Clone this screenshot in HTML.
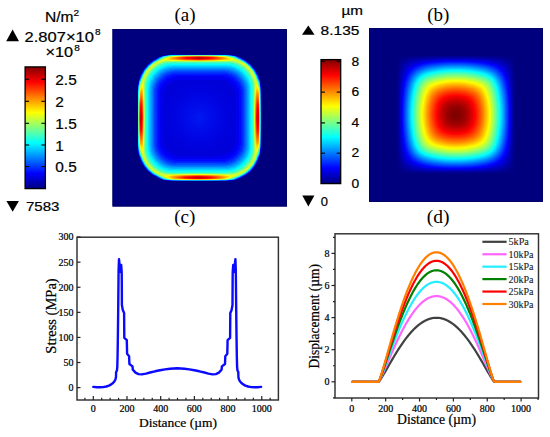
<!DOCTYPE html><html><head><meta charset="utf-8"><style>html,body{margin:0;padding:0;background:#fff;overflow:hidden}svg{display:block}</style></head><body>
<svg width="550" height="437" viewBox="0 0 550 437">
<defs>
<filter id="jet" x="0" y="0" width="1" height="1" color-interpolation-filters="sRGB"><feComponentTransfer><feFuncR type="table" tableValues="0 0 0 0 0.5 1 1 1 0.5"/><feFuncG type="table" tableValues="0 0 0.5 1 1 1 0.5 0 0"/><feFuncB type="table" tableValues="0.5 1 1 1 0.5 0 0 0 0"/></feComponentTransfer></filter>
<linearGradient id="cbar" x1="0" y1="0" x2="0" y2="1"><stop offset="0.0000" stop-color="#800000"/><stop offset="0.1250" stop-color="#ff0000"/><stop offset="0.2500" stop-color="#ff8000"/><stop offset="0.3750" stop-color="#ffff00"/><stop offset="0.5000" stop-color="#80ff80"/><stop offset="0.6250" stop-color="#00ffff"/><stop offset="0.7500" stop-color="#0080ff"/><stop offset="0.8750" stop-color="#0000ff"/><stop offset="1.0000" stop-color="#000080"/></linearGradient>
<linearGradient id="bgx" x1="0" y1="0" x2="1" y2="0"><stop offset="0.1601" stop-color="#000000"/><stop offset="0.1714" stop-color="#0a0a0a"/><stop offset="0.1827" stop-color="#161616"/><stop offset="0.1940" stop-color="#232323"/><stop offset="0.2053" stop-color="#303030"/><stop offset="0.2166" stop-color="#3d3d3d"/><stop offset="0.2279" stop-color="#4b4b4b"/><stop offset="0.2392" stop-color="#585858"/><stop offset="0.2505" stop-color="#656565"/><stop offset="0.2618" stop-color="#727272"/><stop offset="0.2731" stop-color="#7e7e7e"/><stop offset="0.2844" stop-color="#8a8a8a"/><stop offset="0.2957" stop-color="#959595"/><stop offset="0.3070" stop-color="#a0a0a0"/><stop offset="0.3183" stop-color="#ababab"/><stop offset="0.3296" stop-color="#b5b5b5"/><stop offset="0.3409" stop-color="#bebebe"/><stop offset="0.3522" stop-color="#c7c7c7"/><stop offset="0.3635" stop-color="#cfcfcf"/><stop offset="0.3748" stop-color="#d6d6d6"/><stop offset="0.3861" stop-color="#dddddd"/><stop offset="0.3974" stop-color="#e4e4e4"/><stop offset="0.4087" stop-color="#e9e9e9"/><stop offset="0.4200" stop-color="#eeeeee"/><stop offset="0.4313" stop-color="#f3f3f3"/><stop offset="0.4426" stop-color="#f7f7f7"/><stop offset="0.4539" stop-color="#fafafa"/><stop offset="0.4652" stop-color="#fcfcfc"/><stop offset="0.4765" stop-color="#fefefe"/><stop offset="0.4878" stop-color="#ffffff"/><stop offset="0.4991" stop-color="#ffffff"/><stop offset="0.5104" stop-color="#ffffff"/><stop offset="0.5217" stop-color="#fefefe"/><stop offset="0.5330" stop-color="#fcfcfc"/><stop offset="0.5443" stop-color="#fafafa"/><stop offset="0.5557" stop-color="#f7f7f7"/><stop offset="0.5670" stop-color="#f3f3f3"/><stop offset="0.5783" stop-color="#eeeeee"/><stop offset="0.5896" stop-color="#e9e9e9"/><stop offset="0.6009" stop-color="#e4e4e4"/><stop offset="0.6122" stop-color="#dddddd"/><stop offset="0.6235" stop-color="#d6d6d6"/><stop offset="0.6348" stop-color="#cfcfcf"/><stop offset="0.6461" stop-color="#c7c7c7"/><stop offset="0.6574" stop-color="#bebebe"/><stop offset="0.6687" stop-color="#b5b5b5"/><stop offset="0.6800" stop-color="#ababab"/><stop offset="0.6913" stop-color="#a0a0a0"/><stop offset="0.7026" stop-color="#959595"/><stop offset="0.7139" stop-color="#8a8a8a"/><stop offset="0.7252" stop-color="#7e7e7e"/><stop offset="0.7365" stop-color="#727272"/><stop offset="0.7478" stop-color="#656565"/><stop offset="0.7591" stop-color="#585858"/><stop offset="0.7704" stop-color="#4b4b4b"/><stop offset="0.7817" stop-color="#3d3d3d"/><stop offset="0.7930" stop-color="#303030"/><stop offset="0.8043" stop-color="#232323"/><stop offset="0.8156" stop-color="#161616"/><stop offset="0.8269" stop-color="#0a0a0a"/><stop offset="0.8382" stop-color="#000000"/></linearGradient>
<linearGradient id="bgy" x1="0" y1="0" x2="0" y2="1"><stop offset="0.1589" stop-color="#000000"/><stop offset="0.1702" stop-color="#0a0a0a"/><stop offset="0.1815" stop-color="#161616"/><stop offset="0.1928" stop-color="#232323"/><stop offset="0.2041" stop-color="#303030"/><stop offset="0.2154" stop-color="#3d3d3d"/><stop offset="0.2267" stop-color="#4b4b4b"/><stop offset="0.2380" stop-color="#585858"/><stop offset="0.2493" stop-color="#656565"/><stop offset="0.2606" stop-color="#727272"/><stop offset="0.2719" stop-color="#7e7e7e"/><stop offset="0.2832" stop-color="#8a8a8a"/><stop offset="0.2945" stop-color="#959595"/><stop offset="0.3058" stop-color="#a0a0a0"/><stop offset="0.3171" stop-color="#ababab"/><stop offset="0.3284" stop-color="#b5b5b5"/><stop offset="0.3398" stop-color="#bebebe"/><stop offset="0.3511" stop-color="#c7c7c7"/><stop offset="0.3624" stop-color="#cfcfcf"/><stop offset="0.3737" stop-color="#d6d6d6"/><stop offset="0.3850" stop-color="#dddddd"/><stop offset="0.3963" stop-color="#e4e4e4"/><stop offset="0.4076" stop-color="#e9e9e9"/><stop offset="0.4189" stop-color="#eeeeee"/><stop offset="0.4302" stop-color="#f3f3f3"/><stop offset="0.4415" stop-color="#f7f7f7"/><stop offset="0.4528" stop-color="#fafafa"/><stop offset="0.4641" stop-color="#fcfcfc"/><stop offset="0.4754" stop-color="#fefefe"/><stop offset="0.4867" stop-color="#ffffff"/><stop offset="0.4980" stop-color="#ffffff"/><stop offset="0.5093" stop-color="#ffffff"/><stop offset="0.5206" stop-color="#fefefe"/><stop offset="0.5319" stop-color="#fcfcfc"/><stop offset="0.5432" stop-color="#fafafa"/><stop offset="0.5545" stop-color="#f7f7f7"/><stop offset="0.5658" stop-color="#f3f3f3"/><stop offset="0.5771" stop-color="#eeeeee"/><stop offset="0.5884" stop-color="#e9e9e9"/><stop offset="0.5997" stop-color="#e4e4e4"/><stop offset="0.6110" stop-color="#dddddd"/><stop offset="0.6223" stop-color="#d6d6d6"/><stop offset="0.6336" stop-color="#cfcfcf"/><stop offset="0.6449" stop-color="#c7c7c7"/><stop offset="0.6562" stop-color="#bebebe"/><stop offset="0.6675" stop-color="#b5b5b5"/><stop offset="0.6788" stop-color="#ababab"/><stop offset="0.6901" stop-color="#a0a0a0"/><stop offset="0.7014" stop-color="#959595"/><stop offset="0.7127" stop-color="#8a8a8a"/><stop offset="0.7240" stop-color="#7e7e7e"/><stop offset="0.7353" stop-color="#727272"/><stop offset="0.7466" stop-color="#656565"/><stop offset="0.7580" stop-color="#585858"/><stop offset="0.7693" stop-color="#4b4b4b"/><stop offset="0.7806" stop-color="#3d3d3d"/><stop offset="0.7919" stop-color="#303030"/><stop offset="0.8032" stop-color="#232323"/><stop offset="0.8145" stop-color="#161616"/><stop offset="0.8258" stop-color="#0a0a0a"/><stop offset="0.8371" stop-color="#000000"/></linearGradient>
<clipPath id="ringclip"><rect x="137.80" y="54.80" width="123.10" height="126.00" rx="33" ry="33"/></clipPath>
<filter id="bl4" filterUnits="userSpaceOnUse" x="100" y="20" width="200" height="200"><feGaussianBlur stdDeviation="4"/></filter>
<filter id="bl2" filterUnits="userSpaceOnUse" x="100" y="20" width="200" height="200"><feGaussianBlur stdDeviation="1.6"/></filter>
<filter id="bl1" filterUnits="userSpaceOnUse" x="100" y="20" width="200" height="200"><feGaussianBlur stdDeviation="1.0"/></filter>
<radialGradient id="acenter" cx="0.5" cy="0.5" r="0.5"><stop offset="0" stop-color="#202020"/><stop offset="1" stop-color="#1a1a1a"/></radialGradient>
<linearGradient id="redh" x1="0" y1="0" x2="1" y2="0"><stop offset="0" stop-color="#9e9e9e" stop-opacity="0"/><stop offset="0.18" stop-color="#bfbfbf" stop-opacity="0.9"/><stop offset="0.33" stop-color="#e0e0e0" stop-opacity="1"/><stop offset="0.5" stop-color="#f7f7f7" stop-opacity="1"/><stop offset="0.67" stop-color="#e0e0e0" stop-opacity="1"/><stop offset="0.82" stop-color="#bfbfbf" stop-opacity="0.9"/><stop offset="1" stop-color="#9e9e9e" stop-opacity="0"/></linearGradient>
<linearGradient id="redv" x1="0" y1="0" x2="0" y2="1"><stop offset="0" stop-color="#9e9e9e" stop-opacity="0"/><stop offset="0.18" stop-color="#bfbfbf" stop-opacity="0.9"/><stop offset="0.33" stop-color="#e0e0e0" stop-opacity="1"/><stop offset="0.5" stop-color="#f7f7f7" stop-opacity="1"/><stop offset="0.67" stop-color="#e0e0e0" stop-opacity="1"/><stop offset="0.82" stop-color="#bfbfbf" stop-opacity="0.9"/><stop offset="1" stop-color="#9e9e9e" stop-opacity="0"/></linearGradient>
<filter id="bl8" filterUnits="userSpaceOnUse" x="100" y="20" width="200" height="200"><feGaussianBlur stdDeviation="12"/></filter>
<filter id="bl07" filterUnits="userSpaceOnUse" x="100" y="20" width="200" height="200"><feGaussianBlur stdDeviation="0.75"/></filter>
<filter id="bl05" filterUnits="userSpaceOnUse" x="100" y="20" width="200" height="200"><feGaussianBlur stdDeviation="0.6"/></filter>
</defs>
<g filter="url(#jet)">
<rect x="112.50" y="29.00" width="174.50" height="177.50" fill="#000"/>
<g filter="url(#bl07)"><g clip-path="url(#ringclip)">
<g filter="url(#bl05)">
<rect x="137.80" y="54.80" width="123.10" height="126.00" rx="33.00" fill="#1f1f1f"/>
<rect x="138.80" y="55.80" width="121.10" height="124.00" rx="32.00" fill="#404040"/>
<rect x="139.80" y="56.80" width="119.10" height="122.00" rx="31.00" fill="#6a6a6a"/>
<rect x="140.80" y="57.80" width="117.10" height="120.00" rx="30.00" fill="#8c8c8c"/>
<rect x="141.80" y="58.80" width="115.10" height="118.00" rx="29.00" fill="#989898"/>
<rect x="142.80" y="59.80" width="113.10" height="116.00" rx="28.00" fill="#8f8f8f"/>
<rect x="143.80" y="60.80" width="111.10" height="114.00" rx="27.00" fill="#808080"/>
<rect x="144.80" y="61.80" width="109.10" height="112.00" rx="26.45" fill="#737373"/>
<rect x="145.80" y="62.80" width="107.10" height="110.00" rx="25.90" fill="#6a6a6a"/>
<rect x="146.80" y="63.80" width="105.10" height="108.00" rx="25.35" fill="#626262"/>
<rect x="147.80" y="64.80" width="103.10" height="106.00" rx="24.80" fill="#5b5b5b"/>
<rect x="148.80" y="65.80" width="101.10" height="104.00" rx="24.25" fill="#545454"/>
<rect x="149.80" y="66.80" width="99.10" height="102.00" rx="23.70" fill="#4d4d4d"/>
<rect x="150.80" y="67.80" width="97.10" height="100.00" rx="23.15" fill="#474747"/>
<rect x="151.80" y="68.80" width="95.10" height="98.00" rx="22.60" fill="#404040"/>
<rect x="152.80" y="69.80" width="93.10" height="96.00" rx="22.05" fill="#3a3a3a"/>
<rect x="153.80" y="70.80" width="91.10" height="94.00" rx="21.50" fill="#343434"/>
<rect x="154.80" y="71.80" width="89.10" height="92.00" rx="20.95" fill="#2f2f2f"/>
<rect x="155.80" y="72.80" width="87.10" height="90.00" rx="20.40" fill="#2b2b2b"/>
<rect x="156.80" y="73.80" width="85.10" height="88.00" rx="19.85" fill="#272727"/>
<rect x="157.80" y="74.80" width="83.10" height="86.00" rx="19.30" fill="#232323"/>
<rect x="158.80" y="75.80" width="81.10" height="84.00" rx="18.75" fill="#212121"/>
<rect x="159.80" y="76.80" width="79.10" height="82.00" rx="18.20" fill="#1e1e1e"/>
<rect x="160.80" y="77.80" width="77.10" height="80.00" rx="17.65" fill="#1c1c1c"/>
<rect x="161.80" y="78.80" width="75.10" height="78.00" rx="17.10" fill="#1b1b1b"/>
<rect x="162.80" y="79.80" width="73.10" height="76.00" rx="16.55" fill="#1a1a1a"/>
<rect x="163.80" y="80.80" width="71.10" height="74.00" rx="16.00" fill="#181818"/>
<rect x="164.80" y="81.80" width="69.10" height="72.00" rx="15.45" fill="#171717"/>
</g>
<g filter="url(#bl1)">
<rect x="157.50" y="55.70" width="82.00" height="4.40" fill="url(#redh)"/>
<rect x="157.50" y="175.50" width="82.00" height="4.40" fill="url(#redh)"/>
<rect x="138.70" y="77.80" width="4.40" height="80.00" fill="url(#redv)"/>
<rect x="255.60" y="77.80" width="4.40" height="80.00" fill="url(#redv)"/>
</g>
</g></g></g>
<radialGradient id="aglow" cx="0.5" cy="0.5" r="0.5"><stop offset="0" stop-color="#0018f2" stop-opacity="1"/><stop offset="0.45" stop-color="#0008ea" stop-opacity="0.7"/><stop offset="1" stop-color="#0000e0" stop-opacity="0"/></radialGradient>
<ellipse cx="199.35" cy="117.80" rx="44" ry="44" fill="url(#aglow)"/>
<g filter="url(#jet)">
<g style="isolation:isolate">
<rect x="369.00" y="28.00" width="174.00" height="174.00" fill="url(#bgx)"/>
<rect x="369.00" y="28.00" width="174.00" height="174.00" fill="url(#bgy)" style="mix-blend-mode:multiply"/>
</g>
<filter id="bbl" filterUnits="userSpaceOnUse" x="369.0" y="28.0" width="174.0" height="174.0"><feGaussianBlur stdDeviation="4.00"/></filter>
<filter id="mbl" filterUnits="userSpaceOnUse" x="369.0" y="28.0" width="174.0" height="174.0"><feGaussianBlur stdDeviation="6.00"/></filter>
<mask id="bmask" maskUnits="userSpaceOnUse" x="369.0" y="28.0" width="174.0" height="174.0"><rect x="411.85" y="70.65" width="88.00" height="88.00" rx="18.00" fill="#fff" filter="url(#mbl)"/></mask>
<g mask="url(#bmask)"><g style="isolation:isolate" opacity="0.380" filter="url(#bbl)">
<rect x="369.00" y="28.00" width="174.00" height="174.00" fill="url(#bgx)"/>
<rect x="369.00" y="28.00" width="174.00" height="174.00" fill="url(#bgy)" style="mix-blend-mode:darken"/>
</g>
</g>
</g>
<rect x="25.10" y="66.90" width="20.30" height="121.70" fill="url(#cbar)" stroke="#000" stroke-width="1.3"/>
<line x1="25.10" y1="79.30" x2="29.10" y2="79.30" stroke="#000" stroke-width="1.1"/>
<line x1="41.40" y1="79.30" x2="45.40" y2="79.30" stroke="#000" stroke-width="1.1"/>
<line x1="25.10" y1="101.30" x2="29.10" y2="101.30" stroke="#000" stroke-width="1.1"/>
<line x1="41.40" y1="101.30" x2="45.40" y2="101.30" stroke="#000" stroke-width="1.1"/>
<line x1="25.10" y1="123.30" x2="29.10" y2="123.30" stroke="#000" stroke-width="1.1"/>
<line x1="41.40" y1="123.30" x2="45.40" y2="123.30" stroke="#000" stroke-width="1.1"/>
<line x1="25.10" y1="145.00" x2="29.10" y2="145.00" stroke="#000" stroke-width="1.1"/>
<line x1="41.40" y1="145.00" x2="45.40" y2="145.00" stroke="#000" stroke-width="1.1"/>
<line x1="25.10" y1="166.60" x2="29.10" y2="166.60" stroke="#000" stroke-width="1.1"/>
<line x1="41.40" y1="166.60" x2="45.40" y2="166.60" stroke="#000" stroke-width="1.1"/>
<text x="45.00" y="22.20" font-size="14.00" font-family='"Liberation Sans", sans-serif' textLength="28.60" lengthAdjust="spacingAndGlyphs"  stroke="#000" stroke-width="0.20">N/m</text>
<text x="73.60" y="15.80" font-size="9.00" font-family='"Liberation Sans", sans-serif' textLength="5.60" lengthAdjust="spacingAndGlyphs"  stroke="#000" stroke-width="0.20">2</text>
<polygon points="6.20,41.20 12.60,29.50 19.00,41.20" fill="#000"/>
<text x="24.60" y="41.70" font-size="14.00" font-family='"Liberation Sans", sans-serif' textLength="69.40" lengthAdjust="spacingAndGlyphs"  stroke="#000" stroke-width="0.20">2.807×10</text>
<text x="94.90" y="34.80" font-size="9.50" font-family='"Liberation Sans", sans-serif' textLength="5.60" lengthAdjust="spacingAndGlyphs"  stroke="#000" stroke-width="0.20">8</text>
<text x="45.50" y="57.20" font-size="14.00" font-family='"Liberation Sans", sans-serif' textLength="27.60" lengthAdjust="spacingAndGlyphs"  stroke="#000" stroke-width="0.20">×10</text>
<text x="74.30" y="51.00" font-size="9.50" font-family='"Liberation Sans", sans-serif' textLength="5.60" lengthAdjust="spacingAndGlyphs"  stroke="#000" stroke-width="0.20">8</text>
<text x="55.30" y="84.90" font-size="14.00" font-family='"Liberation Sans", sans-serif' textLength="21.40" lengthAdjust="spacingAndGlyphs"  stroke="#000" stroke-width="0.20">2.5</text>
<text x="55.30" y="106.90" font-size="14.00" font-family='"Liberation Sans", sans-serif' textLength="8.60" lengthAdjust="spacingAndGlyphs"  stroke="#000" stroke-width="0.20">2</text>
<text x="55.30" y="128.90" font-size="14.00" font-family='"Liberation Sans", sans-serif' textLength="21.40" lengthAdjust="spacingAndGlyphs"  stroke="#000" stroke-width="0.20">1.5</text>
<text x="55.30" y="150.60" font-size="14.00" font-family='"Liberation Sans", sans-serif' textLength="8.60" lengthAdjust="spacingAndGlyphs"  stroke="#000" stroke-width="0.20">1</text>
<text x="55.30" y="172.20" font-size="14.00" font-family='"Liberation Sans", sans-serif' textLength="21.40" lengthAdjust="spacingAndGlyphs"  stroke="#000" stroke-width="0.20">0.5</text>
<polygon points="6.40,201.00 12.65,211.70 18.90,201.00" fill="#000"/>
<text x="25.90" y="211.40" font-size="13.50" font-family='"Liberation Sans", sans-serif' textLength="33.50" lengthAdjust="spacingAndGlyphs"  stroke="#000" stroke-width="0.20">7583</text>
<rect x="321.00" y="59.60" width="19.70" height="124.00" fill="url(#cbar)" stroke="#000" stroke-width="1.3"/>
<line x1="321.00" y1="61.30" x2="325.00" y2="61.30" stroke="#000" stroke-width="1.1"/>
<line x1="336.70" y1="61.30" x2="340.70" y2="61.30" stroke="#000" stroke-width="1.1"/>
<line x1="321.00" y1="92.10" x2="325.00" y2="92.10" stroke="#000" stroke-width="1.1"/>
<line x1="336.70" y1="92.10" x2="340.70" y2="92.10" stroke="#000" stroke-width="1.1"/>
<line x1="321.00" y1="122.90" x2="325.00" y2="122.90" stroke="#000" stroke-width="1.1"/>
<line x1="336.70" y1="122.90" x2="340.70" y2="122.90" stroke="#000" stroke-width="1.1"/>
<line x1="321.00" y1="153.20" x2="325.00" y2="153.20" stroke="#000" stroke-width="1.1"/>
<line x1="336.70" y1="153.20" x2="340.70" y2="153.20" stroke="#000" stroke-width="1.1"/>
<text x="341.50" y="14.50" font-size="12.80" font-family='"Liberation Sans", sans-serif' textLength="21.50" lengthAdjust="spacingAndGlyphs"  stroke="#000" stroke-width="0.20">µm</text>
<polygon points="302.00,34.80 308.30,25.60 314.60,34.80" fill="#000"/>
<text x="320.60" y="34.80" font-size="12.50" font-family='"Liberation Sans", sans-serif' textLength="38.80" lengthAdjust="spacingAndGlyphs"  stroke="#000" stroke-width="0.20">8.135</text>
<text x="351.50" y="66.00" font-size="12.00" font-family='"Liberation Sans", sans-serif' textLength="7.70" lengthAdjust="spacingAndGlyphs"  stroke="#000" stroke-width="0.20">8</text>
<text x="351.50" y="95.80" font-size="12.00" font-family='"Liberation Sans", sans-serif' textLength="7.70" lengthAdjust="spacingAndGlyphs"  stroke="#000" stroke-width="0.20">6</text>
<text x="351.50" y="126.60" font-size="12.00" font-family='"Liberation Sans", sans-serif' textLength="7.70" lengthAdjust="spacingAndGlyphs"  stroke="#000" stroke-width="0.20">4</text>
<text x="351.50" y="156.90" font-size="12.00" font-family='"Liberation Sans", sans-serif' textLength="7.70" lengthAdjust="spacingAndGlyphs"  stroke="#000" stroke-width="0.20">2</text>
<text x="351.50" y="187.70" font-size="12.00" font-family='"Liberation Sans", sans-serif' textLength="7.70" lengthAdjust="spacingAndGlyphs"  stroke="#000" stroke-width="0.20">0</text>
<polygon points="302.30,195.40 308.35,206.40 314.40,195.40" fill="#000"/>
<text x="320.80" y="205.70" font-size="12.50" font-family='"Liberation Sans", sans-serif' textLength="7.20" lengthAdjust="spacingAndGlyphs"  stroke="#000" stroke-width="0.20">0</text>
<rect x="113.00" y="29.50" width="173.50" height="176.50" fill="none" stroke="#000060" stroke-width="1"/>
<rect x="369.50" y="28.50" width="173.00" height="173.00" fill="none" stroke="#000060" stroke-width="1"/>
<text x="185.05" y="21.00" font-size="19.00" font-family='"Liberation Serif", serif' text-anchor="middle" stroke="none">(a)</text>
<text x="438.25" y="21.00" font-size="19.00" font-family='"Liberation Serif", serif' text-anchor="middle" stroke="none">(b)</text>
<text x="184.75" y="223.30" font-size="19.00" font-family='"Liberation Serif", serif' text-anchor="middle" stroke="none">(c)</text>
<text x="438.20" y="223.20" font-size="19.50" font-family='"Liberation Serif", serif' text-anchor="middle" stroke="none">(d)</text>
<rect x="77.00" y="237.20" width="201.40" height="162.80" fill="none" stroke="#303030" stroke-width="1.45"/>
<line x1="77.00" y1="387.60" x2="80.50" y2="387.60" stroke="#222" stroke-width="1.2"/>
<text x="73.50" y="391.00" font-size="10.00" font-family='"Liberation Serif", serif' text-anchor="end"  stroke="#000" stroke-width="0.22">0</text>
<line x1="77.00" y1="362.52" x2="80.50" y2="362.52" stroke="#222" stroke-width="1.2"/>
<text x="73.50" y="365.92" font-size="10.00" font-family='"Liberation Serif", serif' text-anchor="end"  stroke="#000" stroke-width="0.22">50</text>
<line x1="77.00" y1="337.43" x2="80.50" y2="337.43" stroke="#222" stroke-width="1.2"/>
<text x="73.50" y="340.83" font-size="10.00" font-family='"Liberation Serif", serif' text-anchor="end"  stroke="#000" stroke-width="0.22">100</text>
<line x1="77.00" y1="312.35" x2="80.50" y2="312.35" stroke="#222" stroke-width="1.2"/>
<text x="73.50" y="315.75" font-size="10.00" font-family='"Liberation Serif", serif' text-anchor="end"  stroke="#000" stroke-width="0.22">150</text>
<line x1="77.00" y1="287.26" x2="80.50" y2="287.26" stroke="#222" stroke-width="1.2"/>
<text x="73.50" y="290.66" font-size="10.00" font-family='"Liberation Serif", serif' text-anchor="end"  stroke="#000" stroke-width="0.22">200</text>
<line x1="77.00" y1="262.18" x2="80.50" y2="262.18" stroke="#222" stroke-width="1.2"/>
<text x="73.50" y="265.57" font-size="10.00" font-family='"Liberation Serif", serif' text-anchor="end"  stroke="#000" stroke-width="0.22">250</text>
<line x1="77.00" y1="237.09" x2="80.50" y2="237.09" stroke="#222" stroke-width="1.2"/>
<text x="73.50" y="240.49" font-size="10.00" font-family='"Liberation Serif", serif' text-anchor="end"  stroke="#000" stroke-width="0.22">300</text>
<line x1="84.88" y1="400.00" x2="84.88" y2="397.80" stroke="#222" stroke-width="1.2"/>
<line x1="93.30" y1="400.00" x2="93.30" y2="396.00" stroke="#222" stroke-width="1.2"/>
<text x="93.30" y="412.00" font-size="10.00" font-family='"Liberation Serif", serif' text-anchor="middle"  stroke="#000" stroke-width="0.22">0</text>
<line x1="101.72" y1="400.00" x2="101.72" y2="397.80" stroke="#222" stroke-width="1.2"/>
<line x1="110.14" y1="400.00" x2="110.14" y2="397.80" stroke="#222" stroke-width="1.2"/>
<line x1="118.57" y1="400.00" x2="118.57" y2="397.80" stroke="#222" stroke-width="1.2"/>
<line x1="126.99" y1="400.00" x2="126.99" y2="396.00" stroke="#222" stroke-width="1.2"/>
<text x="126.99" y="412.00" font-size="10.00" font-family='"Liberation Serif", serif' text-anchor="middle"  stroke="#000" stroke-width="0.22">200</text>
<line x1="135.41" y1="400.00" x2="135.41" y2="397.80" stroke="#222" stroke-width="1.2"/>
<line x1="143.83" y1="400.00" x2="143.83" y2="397.80" stroke="#222" stroke-width="1.2"/>
<line x1="152.26" y1="400.00" x2="152.26" y2="397.80" stroke="#222" stroke-width="1.2"/>
<line x1="160.68" y1="400.00" x2="160.68" y2="396.00" stroke="#222" stroke-width="1.2"/>
<text x="160.68" y="412.00" font-size="10.00" font-family='"Liberation Serif", serif' text-anchor="middle"  stroke="#000" stroke-width="0.22">400</text>
<line x1="169.10" y1="400.00" x2="169.10" y2="397.80" stroke="#222" stroke-width="1.2"/>
<line x1="177.52" y1="400.00" x2="177.52" y2="397.80" stroke="#222" stroke-width="1.2"/>
<line x1="185.95" y1="400.00" x2="185.95" y2="397.80" stroke="#222" stroke-width="1.2"/>
<line x1="194.37" y1="400.00" x2="194.37" y2="396.00" stroke="#222" stroke-width="1.2"/>
<text x="194.37" y="412.00" font-size="10.00" font-family='"Liberation Serif", serif' text-anchor="middle"  stroke="#000" stroke-width="0.22">600</text>
<line x1="202.79" y1="400.00" x2="202.79" y2="397.80" stroke="#222" stroke-width="1.2"/>
<line x1="211.21" y1="400.00" x2="211.21" y2="397.80" stroke="#222" stroke-width="1.2"/>
<line x1="219.64" y1="400.00" x2="219.64" y2="397.80" stroke="#222" stroke-width="1.2"/>
<line x1="228.06" y1="400.00" x2="228.06" y2="396.00" stroke="#222" stroke-width="1.2"/>
<text x="228.06" y="412.00" font-size="10.00" font-family='"Liberation Serif", serif' text-anchor="middle"  stroke="#000" stroke-width="0.22">800</text>
<line x1="236.48" y1="400.00" x2="236.48" y2="397.80" stroke="#222" stroke-width="1.2"/>
<line x1="244.90" y1="400.00" x2="244.90" y2="397.80" stroke="#222" stroke-width="1.2"/>
<line x1="253.33" y1="400.00" x2="253.33" y2="397.80" stroke="#222" stroke-width="1.2"/>
<line x1="261.75" y1="400.00" x2="261.75" y2="396.00" stroke="#222" stroke-width="1.2"/>
<text x="261.75" y="412.00" font-size="10.00" font-family='"Liberation Serif", serif' text-anchor="middle"  stroke="#000" stroke-width="0.22">1000</text>
<line x1="270.17" y1="400.00" x2="270.17" y2="397.80" stroke="#222" stroke-width="1.2"/>
<text x="178.00" y="426.50" font-size="13.50" font-family='"Liberation Serif", serif' text-anchor="middle"  stroke="#000" stroke-width="0.22">Distance (µm)</text>
<g transform="translate(56,316) rotate(-90)"><text x="0.00" y="0.00" font-size="14.50" font-family='"Liberation Serif", serif' text-anchor="middle"  stroke="#000" stroke-width="0.22">Stress (MPa)</text></g>
<polyline points="93.30,386.90 97.00,387.30 100.00,387.30 103.00,387.10 106.40,386.50 109.00,385.60 111.20,384.40 113.00,383.00 114.50,381.20 115.50,379.20 116.00,377.00 116.10,372.00 116.90,370.60 117.30,367.00 117.60,355.00 117.90,335.00 118.30,300.00 118.60,270.00 119.00,259.20 119.50,264.00 120.30,272.00 121.20,265.00 121.70,272.00 121.80,285.00 121.90,305.00 122.80,310.00 124.10,313.00 124.30,337.80 126.80,340.20 127.10,353.80 129.10,356.20 129.40,364.00 132.50,366.40 132.80,369.60 135.50,372.60 138.50,374.10 141.80,374.40 146.00,373.60 150.00,372.50 155.00,371.30 160.00,370.30 165.00,369.40 170.00,368.70 177.20,368.30 184.40,368.70 189.40,369.40 194.40,370.30 199.40,371.30 204.40,372.50 208.40,373.60 212.60,374.40 215.90,374.10 218.90,372.60 221.60,369.60 221.90,366.40 225.00,364.00 225.30,356.20 227.30,353.80 227.60,340.20 230.10,337.80 230.30,313.00 231.60,310.00 232.50,305.00 232.60,285.00 232.70,272.00 233.20,265.00 234.10,272.00 234.90,264.00 235.40,259.20 235.80,270.00 236.10,300.00 236.50,335.00 236.80,355.00 237.10,367.00 237.50,370.60 238.30,372.00 238.40,377.00 238.90,379.20 239.90,381.20 241.40,383.00 243.20,384.40 245.40,385.60 248.00,386.50 251.40,387.10 254.40,387.30 257.40,387.30 261.10,386.90" fill="none" stroke="#0a0aff" stroke-width="2.4" stroke-linejoin="round" stroke-linecap="round"/>
<rect x="335.00" y="233.80" width="203.50" height="164.20" fill="none" stroke="#303030" stroke-width="1.45"/>
<line x1="333.00" y1="397.85" x2="335.00" y2="397.85" stroke="#222" stroke-width="1.2"/>
<line x1="331.50" y1="381.80" x2="335.00" y2="381.80" stroke="#222" stroke-width="1.2"/>
<text x="329.50" y="385.20" font-size="10.00" font-family='"Liberation Serif", serif' text-anchor="end"  stroke="#000" stroke-width="0.22">0</text>
<line x1="333.00" y1="365.75" x2="335.00" y2="365.75" stroke="#222" stroke-width="1.2"/>
<line x1="331.50" y1="349.70" x2="335.00" y2="349.70" stroke="#222" stroke-width="1.2"/>
<text x="329.50" y="353.10" font-size="10.00" font-family='"Liberation Serif", serif' text-anchor="end"  stroke="#000" stroke-width="0.22">2</text>
<line x1="333.00" y1="333.65" x2="335.00" y2="333.65" stroke="#222" stroke-width="1.2"/>
<line x1="331.50" y1="317.60" x2="335.00" y2="317.60" stroke="#222" stroke-width="1.2"/>
<text x="329.50" y="321.00" font-size="10.00" font-family='"Liberation Serif", serif' text-anchor="end"  stroke="#000" stroke-width="0.22">4</text>
<line x1="333.00" y1="301.55" x2="335.00" y2="301.55" stroke="#222" stroke-width="1.2"/>
<line x1="331.50" y1="285.50" x2="335.00" y2="285.50" stroke="#222" stroke-width="1.2"/>
<text x="329.50" y="288.90" font-size="10.00" font-family='"Liberation Serif", serif' text-anchor="end"  stroke="#000" stroke-width="0.22">6</text>
<line x1="333.00" y1="269.45" x2="335.00" y2="269.45" stroke="#222" stroke-width="1.2"/>
<line x1="331.50" y1="253.40" x2="335.00" y2="253.40" stroke="#222" stroke-width="1.2"/>
<text x="329.50" y="256.80" font-size="10.00" font-family='"Liberation Serif", serif' text-anchor="end"  stroke="#000" stroke-width="0.22">8</text>
<line x1="333.00" y1="237.35" x2="335.00" y2="237.35" stroke="#222" stroke-width="1.2"/>
<line x1="351.80" y1="398.00" x2="351.80" y2="401.50" stroke="#222" stroke-width="1.2"/>
<text x="351.80" y="411.50" font-size="10.00" font-family='"Liberation Serif", serif' text-anchor="middle"  stroke="#000" stroke-width="0.22">0</text>
<line x1="368.73" y1="398.00" x2="368.73" y2="400.00" stroke="#222" stroke-width="1.2"/>
<line x1="385.66" y1="398.00" x2="385.66" y2="401.50" stroke="#222" stroke-width="1.2"/>
<text x="385.66" y="411.50" font-size="10.00" font-family='"Liberation Serif", serif' text-anchor="middle"  stroke="#000" stroke-width="0.22">200</text>
<line x1="402.60" y1="398.00" x2="402.60" y2="400.00" stroke="#222" stroke-width="1.2"/>
<line x1="419.53" y1="398.00" x2="419.53" y2="401.50" stroke="#222" stroke-width="1.2"/>
<text x="419.53" y="411.50" font-size="10.00" font-family='"Liberation Serif", serif' text-anchor="middle"  stroke="#000" stroke-width="0.22">400</text>
<line x1="436.46" y1="398.00" x2="436.46" y2="400.00" stroke="#222" stroke-width="1.2"/>
<line x1="453.39" y1="398.00" x2="453.39" y2="401.50" stroke="#222" stroke-width="1.2"/>
<text x="453.39" y="411.50" font-size="10.00" font-family='"Liberation Serif", serif' text-anchor="middle"  stroke="#000" stroke-width="0.22">600</text>
<line x1="470.32" y1="398.00" x2="470.32" y2="400.00" stroke="#222" stroke-width="1.2"/>
<line x1="487.26" y1="398.00" x2="487.26" y2="401.50" stroke="#222" stroke-width="1.2"/>
<text x="487.26" y="411.50" font-size="10.00" font-family='"Liberation Serif", serif' text-anchor="middle"  stroke="#000" stroke-width="0.22">800</text>
<line x1="504.19" y1="398.00" x2="504.19" y2="400.00" stroke="#222" stroke-width="1.2"/>
<line x1="521.12" y1="398.00" x2="521.12" y2="401.50" stroke="#222" stroke-width="1.2"/>
<text x="521.12" y="411.50" font-size="10.00" font-family='"Liberation Serif", serif' text-anchor="middle"  stroke="#000" stroke-width="0.22">1000</text>
<line x1="538.05" y1="398.00" x2="538.05" y2="400.00" stroke="#222" stroke-width="1.2"/>
<text x="436.60" y="424.00" font-size="13.70" font-family='"Liberation Serif", serif' text-anchor="middle"  stroke="#000" stroke-width="0.22">Distance (µm)</text>
<g transform="translate(319.3,316.3) rotate(-90)"><text x="0.00" y="0.00" font-size="14.60" font-family='"Liberation Serif", serif' textLength="104.50" lengthAdjust="spacingAndGlyphs" text-anchor="middle"  stroke="#000" stroke-width="0.22">Displacement (µm)</text></g>
<polyline points="351.80,381.80 352.65,381.80 353.49,381.80 354.34,381.80 355.19,381.80 356.03,381.80 356.88,381.80 357.73,381.80 358.57,381.80 359.42,381.80 360.27,381.80 361.11,381.80 361.96,381.80 362.81,381.80 363.65,381.80 364.50,381.80 365.35,381.80 366.19,381.80 367.04,381.80 367.89,381.80 368.73,381.80 369.58,381.80 370.43,381.80 371.27,381.80 372.12,381.80 372.97,381.80 373.81,381.80 374.66,381.80 375.50,381.80 376.35,381.80 377.20,381.80 378.04,381.80 378.89,381.55 379.74,380.50 380.58,379.29 381.43,377.98 382.28,376.62 383.12,375.22 383.97,373.79 384.82,372.33 385.66,370.87 386.51,369.39 387.36,367.92 388.20,366.44 389.05,364.96 389.90,363.49 390.74,362.02 391.59,360.57 392.44,359.12 393.28,357.69 394.13,356.27 394.98,354.87 395.82,353.48 396.67,352.11 397.52,350.76 398.36,349.43 399.21,348.11 400.06,346.82 400.90,345.56 401.75,344.31 402.60,343.09 403.44,341.89 404.29,340.72 405.14,339.57 405.98,338.44 406.83,337.35 407.68,336.28 408.52,335.23 409.37,334.22 410.22,333.23 411.06,332.27 411.91,331.34 412.76,330.43 413.60,329.56 414.45,328.72 415.30,327.90 416.14,327.12 416.99,326.36 417.83,325.64 418.68,324.95 419.53,324.28 420.37,323.65 421.22,323.05 422.07,322.49 422.91,321.95 423.76,321.44 424.61,320.97 425.45,320.53 426.30,320.12 427.15,319.75 427.99,319.40 428.84,319.09 429.69,318.81 430.53,318.57 431.38,318.35 432.23,318.17 433.07,318.02 433.92,317.91 434.77,317.83 435.61,317.78 436.46,317.76 437.31,317.78 438.15,317.83 439.00,317.91 439.85,318.02 440.69,318.17 441.54,318.35 442.39,318.57 443.23,318.81 444.08,319.09 444.93,319.40 445.77,319.75 446.62,320.12 447.47,320.53 448.31,320.97 449.16,321.44 450.01,321.95 450.85,322.49 451.70,323.05 452.55,323.65 453.39,324.28 454.24,324.95 455.09,325.64 455.93,326.36 456.78,327.12 457.62,327.90 458.47,328.72 459.32,329.56 460.16,330.43 461.01,331.34 461.86,332.27 462.70,333.23 463.55,334.22 464.40,335.23 465.24,336.28 466.09,337.35 466.94,338.44 467.78,339.57 468.63,340.72 469.48,341.89 470.32,343.09 471.17,344.31 472.02,345.56 472.86,346.82 473.71,348.11 474.56,349.43 475.40,350.76 476.25,352.11 477.10,353.48 477.94,354.87 478.79,356.27 479.64,357.69 480.48,359.12 481.33,360.57 482.18,362.02 483.02,363.49 483.87,364.96 484.72,366.44 485.56,367.92 486.41,369.39 487.26,370.87 488.10,372.33 488.95,373.79 489.80,375.22 490.64,376.62 491.49,377.98 492.34,379.29 493.18,380.50 494.03,381.55 494.88,381.80 495.72,381.80 496.57,381.80 497.42,381.80 498.26,381.80 499.11,381.80 499.96,381.80 500.80,381.80 501.65,381.80 502.49,381.80 503.34,381.80 504.19,381.80 505.03,381.80 505.88,381.80 506.73,381.80 507.57,381.80 508.42,381.80 509.27,381.80 510.11,381.80 510.96,381.80 511.81,381.80 512.65,381.80 513.50,381.80 514.35,381.80 515.19,381.80 516.04,381.80 516.89,381.80 517.73,381.80 518.58,381.80 519.43,381.80 520.27,381.80 521.12,381.80" fill="none" stroke="#404040" stroke-width="2.2" stroke-linejoin="round"/>
<polyline points="351.80,381.80 352.65,381.80 353.49,381.80 354.34,381.80 355.19,381.80 356.03,381.80 356.88,381.80 357.73,381.80 358.57,381.80 359.42,381.80 360.27,381.80 361.11,381.80 361.96,381.80 362.81,381.80 363.65,381.80 364.50,381.80 365.35,381.80 366.19,381.80 367.04,381.80 367.89,381.80 368.73,381.80 369.58,381.80 370.43,381.80 371.27,381.80 372.12,381.80 372.97,381.80 373.81,381.80 374.66,381.80 375.50,381.80 376.35,381.80 377.20,381.80 378.04,381.80 378.89,381.46 379.74,380.06 380.58,378.44 381.43,376.69 382.28,374.87 383.12,372.99 383.97,371.08 384.82,369.13 385.66,367.17 386.51,365.20 387.36,363.22 388.20,361.24 389.05,359.26 389.90,357.29 390.74,355.33 391.59,353.38 392.44,351.45 393.28,349.53 394.13,347.63 394.98,345.75 395.82,343.90 396.67,342.06 397.52,340.25 398.36,338.47 399.21,336.72 400.06,334.99 400.90,333.29 401.75,331.62 402.60,329.99 403.44,328.39 404.29,326.81 405.14,325.28 405.98,323.77 406.83,322.31 407.68,320.87 408.52,319.48 409.37,318.12 410.22,316.79 411.06,315.51 411.91,314.26 412.76,313.05 413.60,311.88 414.45,310.76 415.30,309.67 416.14,308.62 416.99,307.61 417.83,306.64 418.68,305.71 419.53,304.82 420.37,303.98 421.22,303.18 422.07,302.42 422.91,301.70 423.76,301.02 424.61,300.39 425.45,299.80 426.30,299.25 427.15,298.75 427.99,298.29 428.84,297.87 429.69,297.50 430.53,297.17 431.38,296.89 432.23,296.64 433.07,296.45 433.92,296.29 434.77,296.18 435.61,296.12 436.46,296.09 437.31,296.12 438.15,296.18 439.00,296.29 439.85,296.45 440.69,296.64 441.54,296.89 442.39,297.17 443.23,297.50 444.08,297.87 444.93,298.29 445.77,298.75 446.62,299.25 447.47,299.80 448.31,300.39 449.16,301.02 450.01,301.70 450.85,302.42 451.70,303.18 452.55,303.98 453.39,304.82 454.24,305.71 455.09,306.64 455.93,307.61 456.78,308.62 457.62,309.67 458.47,310.76 459.32,311.88 460.16,313.05 461.01,314.26 461.86,315.51 462.70,316.79 463.55,318.12 464.40,319.48 465.24,320.87 466.09,322.31 466.94,323.77 467.78,325.28 468.63,326.81 469.48,328.39 470.32,329.99 471.17,331.62 472.02,333.29 472.86,334.99 473.71,336.72 474.56,338.47 475.40,340.25 476.25,342.06 477.10,343.90 477.94,345.75 478.79,347.63 479.64,349.53 480.48,351.45 481.33,353.38 482.18,355.33 483.02,357.29 483.87,359.26 484.72,361.24 485.56,363.22 486.41,365.20 487.26,367.17 488.10,369.13 488.95,371.08 489.80,372.99 490.64,374.87 491.49,376.69 492.34,378.44 493.18,380.06 494.03,381.46 494.88,381.80 495.72,381.80 496.57,381.80 497.42,381.80 498.26,381.80 499.11,381.80 499.96,381.80 500.80,381.80 501.65,381.80 502.49,381.80 503.34,381.80 504.19,381.80 505.03,381.80 505.88,381.80 506.73,381.80 507.57,381.80 508.42,381.80 509.27,381.80 510.11,381.80 510.96,381.80 511.81,381.80 512.65,381.80 513.50,381.80 514.35,381.80 515.19,381.80 516.04,381.80 516.89,381.80 517.73,381.80 518.58,381.80 519.43,381.80 520.27,381.80 521.12,381.80" fill="none" stroke="#ff66ff" stroke-width="2.2" stroke-linejoin="round"/>
<polyline points="351.80,381.80 352.65,381.80 353.49,381.80 354.34,381.80 355.19,381.80 356.03,381.80 356.88,381.80 357.73,381.80 358.57,381.80 359.42,381.80 360.27,381.80 361.11,381.80 361.96,381.80 362.81,381.80 363.65,381.80 364.50,381.80 365.35,381.80 366.19,381.80 367.04,381.80 367.89,381.80 368.73,381.80 369.58,381.80 370.43,381.80 371.27,381.80 372.12,381.80 372.97,381.80 373.81,381.80 374.66,381.80 375.50,381.80 376.35,381.80 377.20,381.80 378.04,381.80 378.89,381.41 379.74,379.77 380.58,377.88 381.43,375.84 382.28,373.71 383.12,371.52 383.97,369.29 384.82,367.02 385.66,364.73 386.51,362.43 387.36,360.12 388.20,357.81 389.05,355.51 389.90,353.21 390.74,350.92 391.59,348.65 392.44,346.39 393.28,344.15 394.13,341.94 394.98,339.74 395.82,337.58 396.67,335.44 397.52,333.33 398.36,331.25 399.21,329.20 400.06,327.19 400.90,325.21 401.75,323.26 402.60,321.35 403.44,319.48 404.29,317.65 405.14,315.86 405.98,314.10 406.83,312.39 407.68,310.72 408.52,309.09 409.37,307.50 410.22,305.96 411.06,304.46 411.91,303.01 412.76,301.60 413.60,300.23 414.45,298.91 415.30,297.64 416.14,296.42 416.99,295.24 417.83,294.11 418.68,293.03 419.53,292.00 420.37,291.01 421.22,290.07 422.07,289.19 422.91,288.35 423.76,287.56 424.61,286.82 425.45,286.13 426.30,285.50 427.15,284.91 427.99,284.37 428.84,283.89 429.69,283.45 430.53,283.07 431.38,282.73 432.23,282.45 433.07,282.22 433.92,282.04 434.77,281.91 435.61,281.83 436.46,281.81 437.31,281.83 438.15,281.91 439.00,282.04 439.85,282.22 440.69,282.45 441.54,282.73 442.39,283.07 443.23,283.45 444.08,283.89 444.93,284.37 445.77,284.91 446.62,285.50 447.47,286.13 448.31,286.82 449.16,287.56 450.01,288.35 450.85,289.19 451.70,290.07 452.55,291.01 453.39,292.00 454.24,293.03 455.09,294.11 455.93,295.24 456.78,296.42 457.62,297.64 458.47,298.91 459.32,300.23 460.16,301.60 461.01,303.01 461.86,304.46 462.70,305.96 463.55,307.50 464.40,309.09 465.24,310.72 466.09,312.39 466.94,314.10 467.78,315.86 468.63,317.65 469.48,319.48 470.32,321.35 471.17,323.26 472.02,325.21 472.86,327.19 473.71,329.20 474.56,331.25 475.40,333.33 476.25,335.44 477.10,337.58 477.94,339.74 478.79,341.94 479.64,344.15 480.48,346.39 481.33,348.65 482.18,350.92 483.02,353.21 483.87,355.51 484.72,357.81 485.56,360.12 486.41,362.43 487.26,364.73 488.10,367.02 488.95,369.29 489.80,371.52 490.64,373.71 491.49,375.84 492.34,377.88 493.18,379.77 494.03,381.41 494.88,381.80 495.72,381.80 496.57,381.80 497.42,381.80 498.26,381.80 499.11,381.80 499.96,381.80 500.80,381.80 501.65,381.80 502.49,381.80 503.34,381.80 504.19,381.80 505.03,381.80 505.88,381.80 506.73,381.80 507.57,381.80 508.42,381.80 509.27,381.80 510.11,381.80 510.96,381.80 511.81,381.80 512.65,381.80 513.50,381.80 514.35,381.80 515.19,381.80 516.04,381.80 516.89,381.80 517.73,381.80 518.58,381.80 519.43,381.80 520.27,381.80 521.12,381.80" fill="none" stroke="#22eeff" stroke-width="2.2" stroke-linejoin="round"/>
<polyline points="351.80,381.80 352.65,381.80 353.49,381.80 354.34,381.80 355.19,381.80 356.03,381.80 356.88,381.80 357.73,381.80 358.57,381.80 359.42,381.80 360.27,381.80 361.11,381.80 361.96,381.80 362.81,381.80 363.65,381.80 364.50,381.80 365.35,381.80 366.19,381.80 367.04,381.80 367.89,381.80 368.73,381.80 369.58,381.80 370.43,381.80 371.27,381.80 372.12,381.80 372.97,381.80 373.81,381.80 374.66,381.80 375.50,381.80 376.35,381.80 377.20,381.80 378.04,381.80 378.89,381.36 379.74,379.54 380.58,377.42 381.43,375.15 382.28,372.78 383.12,370.34 383.97,367.84 384.82,365.31 385.66,362.76 386.51,360.19 387.36,357.62 388.20,355.04 389.05,352.47 389.90,349.90 390.74,347.35 391.59,344.81 392.44,342.30 393.28,339.80 394.13,337.33 394.98,334.88 395.82,332.47 396.67,330.08 397.52,327.73 398.36,325.41 399.21,323.12 400.06,320.88 400.90,318.67 401.75,316.50 402.60,314.37 403.44,312.28 404.29,310.24 405.14,308.24 405.98,306.28 406.83,304.37 407.68,302.50 408.52,300.69 409.37,298.92 410.22,297.19 411.06,295.52 411.91,293.90 412.76,292.33 413.60,290.81 414.45,289.34 415.30,287.92 416.14,286.55 416.99,285.24 417.83,283.98 418.68,282.77 419.53,281.62 420.37,280.52 421.22,279.47 422.07,278.48 422.91,277.55 423.76,276.67 424.61,275.85 425.45,275.08 426.30,274.37 427.15,273.71 427.99,273.11 428.84,272.57 429.69,272.08 430.53,271.66 431.38,271.28 432.23,270.97 433.07,270.71 433.92,270.51 434.77,270.37 435.61,270.28 436.46,270.25 437.31,270.28 438.15,270.37 439.00,270.51 439.85,270.71 440.69,270.97 441.54,271.28 442.39,271.66 443.23,272.08 444.08,272.57 444.93,273.11 445.77,273.71 446.62,274.37 447.47,275.08 448.31,275.85 449.16,276.67 450.01,277.55 450.85,278.48 451.70,279.47 452.55,280.52 453.39,281.62 454.24,282.77 455.09,283.98 455.93,285.24 456.78,286.55 457.62,287.92 458.47,289.34 459.32,290.81 460.16,292.33 461.01,293.90 461.86,295.52 462.70,297.19 463.55,298.92 464.40,300.69 465.24,302.50 466.09,304.37 466.94,306.28 467.78,308.24 468.63,310.24 469.48,312.28 470.32,314.37 471.17,316.50 472.02,318.67 472.86,320.88 473.71,323.12 474.56,325.41 475.40,327.73 476.25,330.08 477.10,332.47 477.94,334.88 478.79,337.33 479.64,339.80 480.48,342.30 481.33,344.81 482.18,347.35 483.02,349.90 483.87,352.47 484.72,355.04 485.56,357.62 486.41,360.19 487.26,362.76 488.10,365.31 488.95,367.84 489.80,370.34 490.64,372.78 491.49,375.15 492.34,377.42 493.18,379.54 494.03,381.36 494.88,381.80 495.72,381.80 496.57,381.80 497.42,381.80 498.26,381.80 499.11,381.80 499.96,381.80 500.80,381.80 501.65,381.80 502.49,381.80 503.34,381.80 504.19,381.80 505.03,381.80 505.88,381.80 506.73,381.80 507.57,381.80 508.42,381.80 509.27,381.80 510.11,381.80 510.96,381.80 511.81,381.80 512.65,381.80 513.50,381.80 514.35,381.80 515.19,381.80 516.04,381.80 516.89,381.80 517.73,381.80 518.58,381.80 519.43,381.80 520.27,381.80 521.12,381.80" fill="none" stroke="#008000" stroke-width="2.2" stroke-linejoin="round"/>
<polyline points="351.80,381.80 352.65,381.80 353.49,381.80 354.34,381.80 355.19,381.80 356.03,381.80 356.88,381.80 357.73,381.80 358.57,381.80 359.42,381.80 360.27,381.80 361.11,381.80 361.96,381.80 362.81,381.80 363.65,381.80 364.50,381.80 365.35,381.80 366.19,381.80 367.04,381.80 367.89,381.80 368.73,381.80 369.58,381.80 370.43,381.80 371.27,381.80 372.12,381.80 372.97,381.80 373.81,381.80 374.66,381.80 375.50,381.80 376.35,381.80 377.20,381.80 378.04,381.80 378.89,381.32 379.74,379.35 380.58,377.05 381.43,374.59 382.28,372.01 383.12,369.36 383.97,366.66 384.82,363.91 385.66,361.14 386.51,358.36 387.36,355.56 388.20,352.77 389.05,349.98 389.90,347.20 390.74,344.43 391.59,341.67 392.44,338.94 393.28,336.24 394.13,333.55 394.98,330.90 395.82,328.28 396.67,325.69 397.52,323.14 398.36,320.62 399.21,318.14 400.06,315.70 400.90,313.31 401.75,310.95 402.60,308.64 403.44,306.38 404.29,304.16 405.14,301.99 405.98,299.87 406.83,297.79 407.68,295.77 408.52,293.80 409.37,291.88 410.22,290.01 411.06,288.20 411.91,286.44 412.76,284.73 413.60,283.08 414.45,281.49 415.30,279.95 416.14,278.46 416.99,277.04 417.83,275.67 418.68,274.36 419.53,273.11 420.37,271.92 421.22,270.79 422.07,269.71 422.91,268.70 423.76,267.75 424.61,266.85 425.45,266.02 426.30,265.25 427.15,264.54 427.99,263.89 428.84,263.30 429.69,262.77 430.53,262.31 431.38,261.90 432.23,261.56 433.07,261.28 433.92,261.06 434.77,260.91 435.61,260.81 436.46,260.78 437.31,260.81 438.15,260.91 439.00,261.06 439.85,261.28 440.69,261.56 441.54,261.90 442.39,262.31 443.23,262.77 444.08,263.30 444.93,263.89 445.77,264.54 446.62,265.25 447.47,266.02 448.31,266.85 449.16,267.75 450.01,268.70 450.85,269.71 451.70,270.79 452.55,271.92 453.39,273.11 454.24,274.36 455.09,275.67 455.93,277.04 456.78,278.46 457.62,279.95 458.47,281.49 459.32,283.08 460.16,284.73 461.01,286.44 461.86,288.20 462.70,290.01 463.55,291.88 464.40,293.80 465.24,295.77 466.09,297.79 466.94,299.87 467.78,301.99 468.63,304.16 469.48,306.38 470.32,308.64 471.17,310.95 472.02,313.31 472.86,315.70 473.71,318.14 474.56,320.62 475.40,323.14 476.25,325.69 477.10,328.28 477.94,330.90 478.79,333.55 479.64,336.24 480.48,338.94 481.33,341.67 482.18,344.43 483.02,347.20 483.87,349.98 484.72,352.77 485.56,355.56 486.41,358.36 487.26,361.14 488.10,363.91 488.95,366.66 489.80,369.36 490.64,372.01 491.49,374.59 492.34,377.05 493.18,379.35 494.03,381.32 494.88,381.80 495.72,381.80 496.57,381.80 497.42,381.80 498.26,381.80 499.11,381.80 499.96,381.80 500.80,381.80 501.65,381.80 502.49,381.80 503.34,381.80 504.19,381.80 505.03,381.80 505.88,381.80 506.73,381.80 507.57,381.80 508.42,381.80 509.27,381.80 510.11,381.80 510.96,381.80 511.81,381.80 512.65,381.80 513.50,381.80 514.35,381.80 515.19,381.80 516.04,381.80 516.89,381.80 517.73,381.80 518.58,381.80 519.43,381.80 520.27,381.80 521.12,381.80" fill="none" stroke="#ff0000" stroke-width="2.2" stroke-linejoin="round"/>
<polyline points="351.80,381.80 352.65,381.80 353.49,381.80 354.34,381.80 355.19,381.80 356.03,381.80 356.88,381.80 357.73,381.80 358.57,381.80 359.42,381.80 360.27,381.80 361.11,381.80 361.96,381.80 362.81,381.80 363.65,381.80 364.50,381.80 365.35,381.80 366.19,381.80 367.04,381.80 367.89,381.80 368.73,381.80 369.58,381.80 370.43,381.80 371.27,381.80 372.12,381.80 372.97,381.80 373.81,381.80 374.66,381.80 375.50,381.80 376.35,381.80 377.20,381.80 378.04,381.80 378.89,381.29 379.74,379.17 380.58,376.72 381.43,374.08 382.28,371.33 383.12,368.49 383.97,365.59 384.82,362.66 385.66,359.69 386.51,356.71 387.36,353.72 388.20,350.73 389.05,347.74 389.90,344.76 390.74,341.80 391.59,338.85 392.44,335.93 393.28,333.03 394.13,330.16 394.98,327.32 395.82,324.52 396.67,321.75 397.52,319.01 398.36,316.32 399.21,313.67 400.06,311.06 400.90,308.49 401.75,305.97 402.60,303.50 403.44,301.08 404.29,298.70 405.14,296.38 405.98,294.11 406.83,291.89 407.68,289.72 408.52,287.61 409.37,285.56 410.22,283.56 411.06,281.62 411.91,279.73 412.76,277.91 413.60,276.14 414.45,274.43 415.30,272.79 416.14,271.20 416.99,269.68 417.83,268.21 418.68,266.81 419.53,265.47 420.37,264.20 421.22,262.98 422.07,261.83 422.91,260.75 423.76,259.73 424.61,258.77 425.45,257.88 426.30,257.05 427.15,256.29 427.99,255.60 428.84,254.97 429.69,254.40 430.53,253.91 431.38,253.47 432.23,253.11 433.07,252.81 433.92,252.58 434.77,252.41 435.61,252.31 436.46,252.28 437.31,252.31 438.15,252.41 439.00,252.58 439.85,252.81 440.69,253.11 441.54,253.47 442.39,253.91 443.23,254.40 444.08,254.97 444.93,255.60 445.77,256.29 446.62,257.05 447.47,257.88 448.31,258.77 449.16,259.73 450.01,260.75 450.85,261.83 451.70,262.98 452.55,264.20 453.39,265.47 454.24,266.81 455.09,268.21 455.93,269.68 456.78,271.20 457.62,272.79 458.47,274.43 459.32,276.14 460.16,277.91 461.01,279.73 461.86,281.62 462.70,283.56 463.55,285.56 464.40,287.61 465.24,289.72 466.09,291.89 466.94,294.11 467.78,296.38 468.63,298.70 469.48,301.08 470.32,303.50 471.17,305.97 472.02,308.49 472.86,311.06 473.71,313.67 474.56,316.32 475.40,319.01 476.25,321.75 477.10,324.52 477.94,327.32 478.79,330.16 479.64,333.03 480.48,335.93 481.33,338.85 482.18,341.80 483.02,344.76 483.87,347.74 484.72,350.73 485.56,353.72 486.41,356.71 487.26,359.69 488.10,362.66 488.95,365.59 489.80,368.49 490.64,371.33 491.49,374.08 492.34,376.72 493.18,379.17 494.03,381.29 494.88,381.80 495.72,381.80 496.57,381.80 497.42,381.80 498.26,381.80 499.11,381.80 499.96,381.80 500.80,381.80 501.65,381.80 502.49,381.80 503.34,381.80 504.19,381.80 505.03,381.80 505.88,381.80 506.73,381.80 507.57,381.80 508.42,381.80 509.27,381.80 510.11,381.80 510.96,381.80 511.81,381.80 512.65,381.80 513.50,381.80 514.35,381.80 515.19,381.80 516.04,381.80 516.89,381.80 517.73,381.80 518.58,381.80 519.43,381.80 520.27,381.80 521.12,381.80" fill="none" stroke="#ff7f00" stroke-width="2.2" stroke-linejoin="round"/>
<line x1="482.4" y1="241.80" x2="506.6" y2="241.80" stroke="#404040" stroke-width="2.2"/>
<text x="508.40" y="245.40" font-size="11.00" font-family='"Liberation Serif", serif' textLength="20.50" lengthAdjust="spacingAndGlyphs" fill="#222" stroke="#222" stroke-width="0.12">5kPa</text>
<line x1="482.4" y1="254.24" x2="506.6" y2="254.24" stroke="#ff66ff" stroke-width="2.2"/>
<text x="508.40" y="257.84" font-size="11.00" font-family='"Liberation Serif", serif' textLength="25.20" lengthAdjust="spacingAndGlyphs" fill="#222" stroke="#222" stroke-width="0.12">10kPa</text>
<line x1="482.4" y1="266.68" x2="506.6" y2="266.68" stroke="#22eeff" stroke-width="2.2"/>
<text x="508.40" y="270.28" font-size="11.00" font-family='"Liberation Serif", serif' textLength="25.20" lengthAdjust="spacingAndGlyphs" fill="#222" stroke="#222" stroke-width="0.12">15kPa</text>
<line x1="482.4" y1="279.12" x2="506.6" y2="279.12" stroke="#008000" stroke-width="2.2"/>
<text x="508.40" y="282.72" font-size="11.00" font-family='"Liberation Serif", serif' textLength="25.20" lengthAdjust="spacingAndGlyphs" fill="#222" stroke="#222" stroke-width="0.12">20kPa</text>
<line x1="482.4" y1="291.56" x2="506.6" y2="291.56" stroke="#ff0000" stroke-width="2.2"/>
<text x="508.40" y="295.16" font-size="11.00" font-family='"Liberation Serif", serif' textLength="25.20" lengthAdjust="spacingAndGlyphs" fill="#222" stroke="#222" stroke-width="0.12">25kPa</text>
<line x1="482.4" y1="304.00" x2="506.6" y2="304.00" stroke="#ff7f00" stroke-width="2.2"/>
<text x="508.40" y="307.60" font-size="11.00" font-family='"Liberation Serif", serif' textLength="25.20" lengthAdjust="spacingAndGlyphs" fill="#222" stroke="#222" stroke-width="0.12">30kPa</text>
</svg></body></html>
